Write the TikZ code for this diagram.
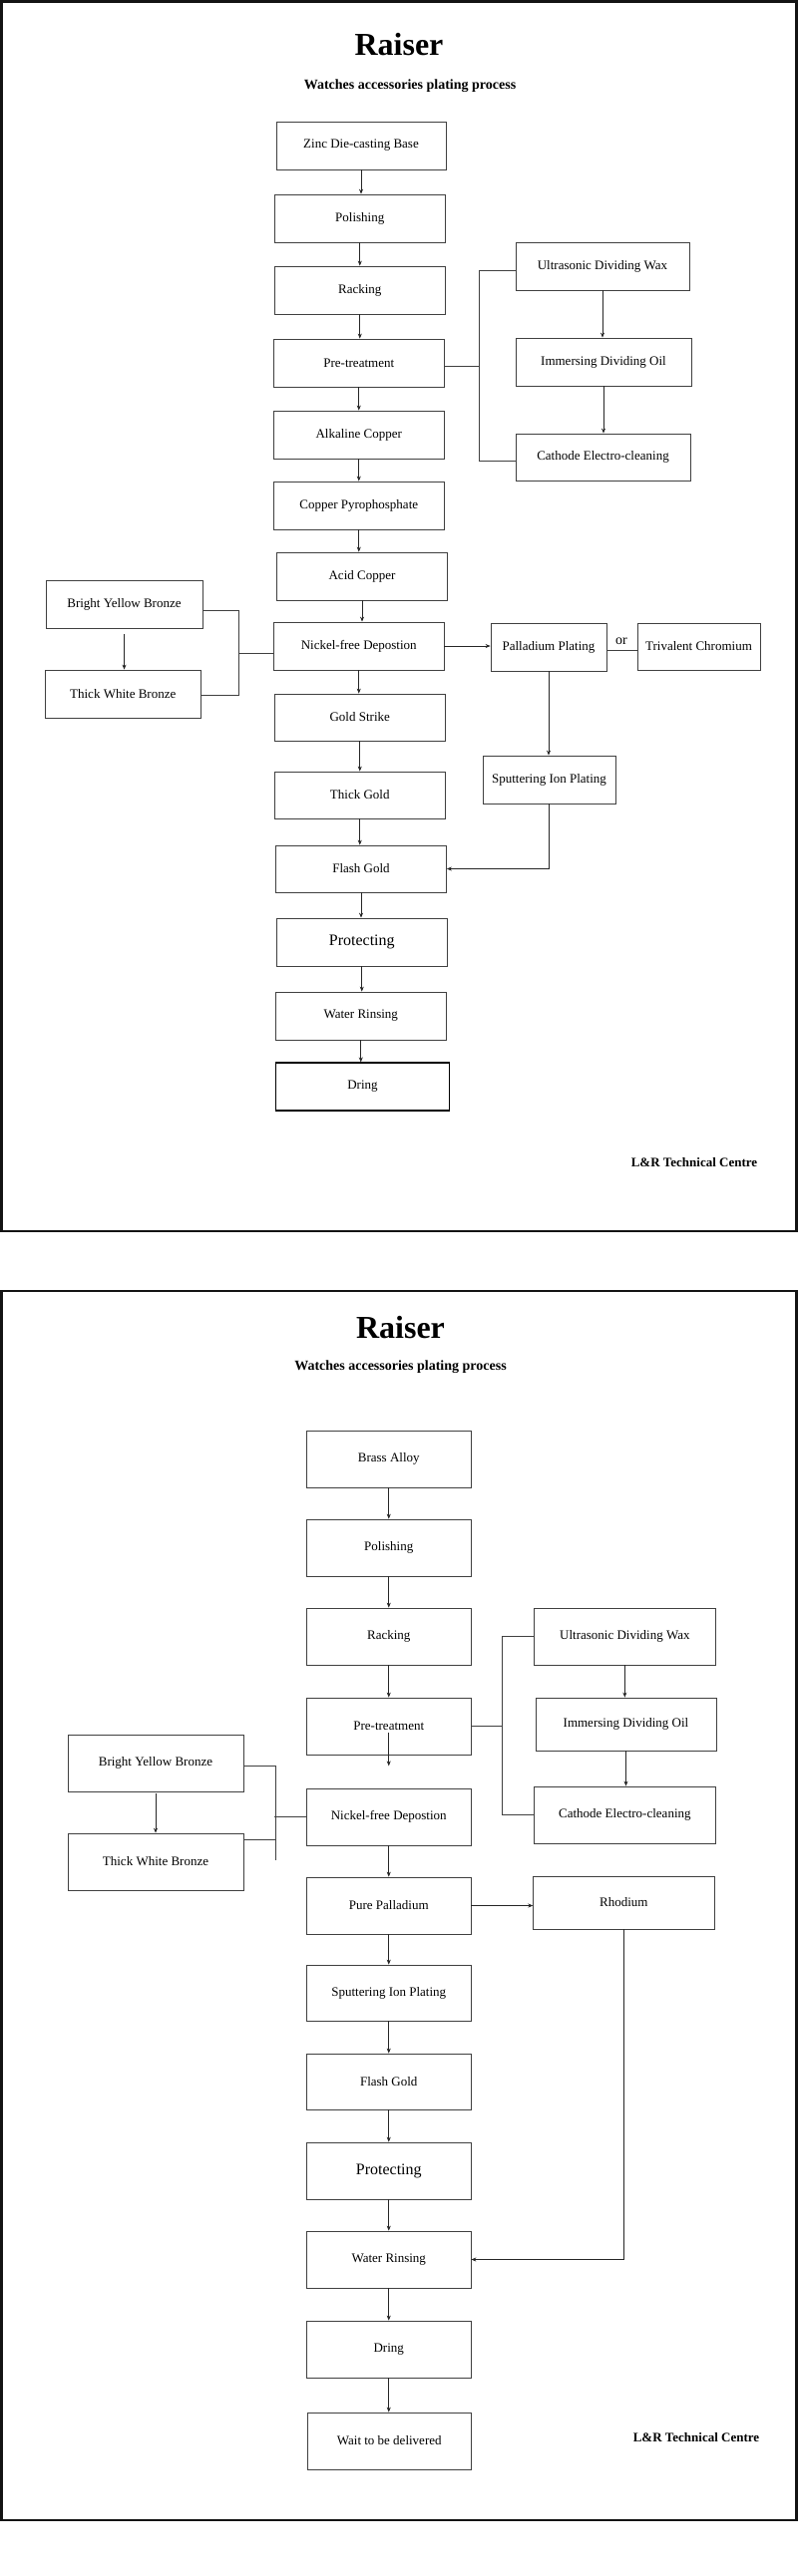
\documentclass[tikz,border=0pt]{standalone}
\usepackage{fontspec}
\setmainfont{Liberation Serif}
\usetikzlibrary{arrows.meta}
\tikzset{
  pbox/.style={draw=black!75, line width=0.8pt, inner sep=0pt, align=center, font=\fontsize{13}{15}\selectfont},
  arr/.style={draw=black!85, line width=0.7pt, -{Stealth[length=5pt,width=4pt]}},
  link/.style={draw=black!75, line width=0.8pt},
  frame/.style={draw=black!92, line width=2.6pt},
  ttl/.style={font=\fontsize{32}{36}\selectfont\bfseries},
  subttl/.style={font=\fontsize{14}{16}\selectfont\bfseries},
  sig/.style={font=\fontsize{13}{15}\selectfont\bfseries},
}
\newcommand\bx[7][]{\node[pbox,#1, minimum width={#5-#3}, minimum height={#6-#4}] (#2) at ({(#3+#5)/2},{(#4+#6)/2}) {#7};}
\begin{document}
\begin{tikzpicture}[x=1pt,y=-1pt]
\useasboundingbox (0,0) rectangle (800,2584);
\fill[white] (0,0) rectangle (800,2584);
% frames
\draw[frame] (1.5,1.5) rectangle (798.5,1235);
\draw[frame] (1.5,1295) rectangle (798.5,2528);

% ===== Top panel =====
\node[ttl] (t1) at (400,45) {Raiser};
\node[subttl] (s1) at (411,86) {Watches accessories plating process};

\bx{zinc}{277}{122}{447}{170}{Zinc Die-casting Base}
\bx{pol}{275.5}{195}{446}{243}{Polishing}
\bx{rack}{275.5}{267}{446}{315}{Racking}
\bx{pre}{274.5}{340}{445}{388}{Pre-treatment}
\bx{alk}{274.5}{412}{445}{460}{Alkaline Copper}
\bx{cpy}{274.5}{483}{445}{531}{Copper Pyrophosphate}
\bx{acid}{277.5}{554}{448.5}{602}{Acid Copper}
\bx{ni}{274.5}{624}{445}{672}{Nickel-free Depostion}
\bx{gs}{275.5}{696}{446}{743}{Gold Strike}
\bx{tg}{275.5}{774}{446}{821}{Thick Gold}
\bx{fg}{276.5}{848}{447.5}{895}{Flash Gold}
\bx[font=\fontsize{16}{18}\selectfont]{prot}{277.5}{921}{448}{969}{Protecting}
\bx{wr}{276.5}{995}{447}{1043}{Water Rinsing}
\bx[draw=black, line width=1.1pt]{dry}{276.5}{1066}{450.5}{1114}{Dring}

\bx{ultra}{517}{243}{691}{291}{Ultrasonic Dividing Wax}
\bx{imm}{517}{339}{693}{387}{Immersing Dividing Oil}
\bx{cath}{517}{435}{692}{482}{Cathode Electro-cleaning}

\bx{byb}{46}{582}{203}{630}{Bright Yellow Bronze}
\bx{twb}{45}{672}{201.5}{720}{Thick White Bronze}

\bx{pd}{492}{625}{608}{673}{Palladium Plating}
\bx{tri}{639}{625}{762}{672}{Trivalent Chromium}
\bx{sput}{484}{758}{617}{806}{Sputtering Ion Plating}

\node[font=\fontsize{14}{16}\selectfont] (ortxt) at (623,643) {or};
\node[sig] (lr1) at (696,1166) {L\&R Technical Centre};

\foreach \a/\b in {zinc/pol,pol/rack,rack/pre,pre/alk,alk/cpy,cpy/acid,acid/ni,ni/gs,gs/tg,tg/fg,fg/prot,prot/wr,wr/dry}
  \draw[arr] (\a.south) -- (\a.south |- \b.north);

\draw[link] ([yshift=-3pt]pre.east) -- ++(36,0);
\draw[link] ([yshift=-4pt]ultra.west) -- ++(-36,0) |- ([yshift=-3.5pt]cath.west);
\draw[arr] (ultra.south) -- (ultra.south |- imm.north);
\draw[arr] (imm.south) -- (imm.south |- cath.north);

\draw[link] ([yshift=-6pt]byb.east) -- ++(36,0) |- ([yshift=-1pt]twb.east);
\draw[link] ([yshift=-7pt]ni.west) -- ++(-35.5,0);
\draw[arr] ([yshift=-6pt]byb.south) -- (byb.south |- twb.north);

\draw[arr] (ni.east) -- (ni.east -| pd.west);
\draw[link] ([yshift=-3pt]pd.east) -- ([yshift=-3pt]pd.east -| tri.west);
\draw[arr] (pd.south) -- (pd.south |- sput.north);
\draw[arr] (sput.south) |- (fg.east);

% ===== Bottom panel =====
\node[ttl] (t2) at (401.5,1332) {Raiser};
\node[subttl] (s2) at (401.5,1371) {Watches accessories plating process};

\bx{brass}{307.5}{1435}{472}{1492}{Brass Alloy}
\bx{pol2}{307.5}{1524}{472}{1581}{Polishing}
\bx{rack2}{307.5}{1613}{472}{1670}{Racking}
\bx{pre2}{307.5}{1703}{472}{1760}{Pre-treatment}
\bx{ni2}{307.5}{1794}{472}{1851}{Nickel-free Depostion}
\bx{pp}{307.5}{1883}{472}{1940}{Pure Palladium}
\bx{sip}{307.5}{1971}{472}{2027}{Sputtering Ion Plating}
\bx{fg2}{307.5}{2060}{472}{2116}{Flash Gold}
\bx[font=\fontsize{16}{18}\selectfont]{prot2}{307.5}{2149}{472}{2206}{Protecting}
\bx{wr2}{307.5}{2238}{472}{2295}{Water Rinsing}
\bx{dry2}{307.5}{2328}{472}{2385}{Dring}
\bx{wait}{308}{2420}{472.5}{2477}{Wait to be delivered}

\bx{ultra2}{535.7}{1613}{717}{1670}{Ultrasonic Dividing Wax}
\bx{imm2}{537}{1703}{718}{1756}{Immersing Dividing Oil}
\bx{cath2}{535.7}{1792}{717}{1849}{Cathode Electro-cleaning}

\bx{byb2}{68}{1740}{244}{1797}{Bright Yellow Bronze}
\bx{twb2}{68}{1839}{244}{1896}{Thick White Bronze}

\bx{rh}{534.7}{1882}{716}{1935}{Rhodium}

\node[sig] (lr2) at (698,2445) {L\&R Technical Centre};

\foreach \a/\b in {brass/pol2,pol2/rack2,rack2/pre2,ni2/pp,pp/sip,sip/fg2,fg2/prot2,prot2/wr2,wr2/dry2,dry2/wait}
  \draw[arr] (\a.south) -- (\a.south |- \b.north);
\draw[arr] ([yshift=22pt]pre2.south) -- ([yshift=-11pt]pre2.south);

\draw[link] (pre2.east) -- ++(31.6,0);
\draw[link] (ultra2.west) -- ++(-32,0) |- (cath2.west);
\draw[arr] (ultra2.south) -- (ultra2.south |- imm2.north);
\draw[arr] (imm2.south) -- (imm2.south |- cath2.north);

\draw[link] ([yshift=-2.5pt]byb2.east) -- ++(31.5,0) -- ++(0,95);
\draw[link] ([yshift=22.5pt]twb2.east) -- ++(31.5,0);
\draw[link] (ni2.west) -- ++(-32,0);
\draw[arr] ([yshift=-2pt]byb2.south) -- (byb2.south |- twb2.north);

\draw[arr] (pp.east) -- (pp.east -| rh.west);
\draw[arr] (rh.south) |- (wr2.east);
\end{tikzpicture}
\end{document}
